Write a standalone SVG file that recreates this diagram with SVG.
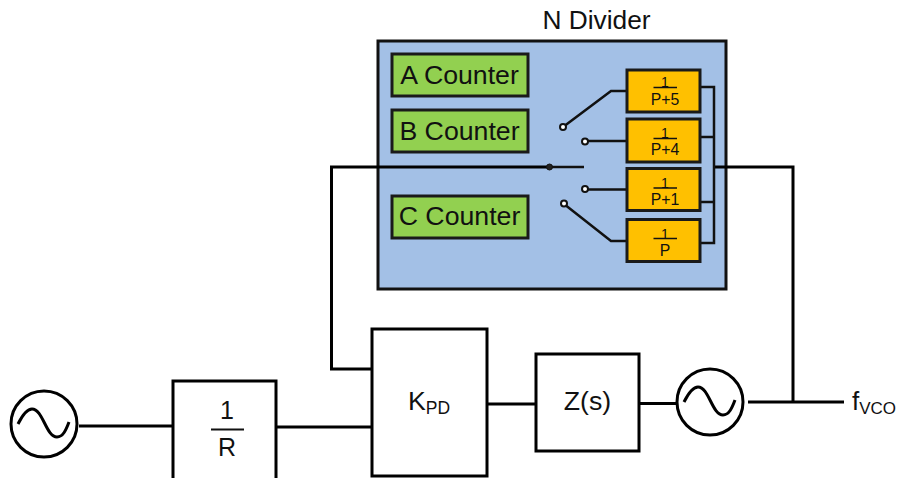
<svg xmlns="http://www.w3.org/2000/svg" width="898" height="478" viewBox="0 0 898 478">
<style>
text{font-family:"Liberation Sans",Arial,sans-serif;fill:#111;text-anchor:middle}
.b{fill:#fff;stroke:#000;stroke-width:3}
.g{fill:#92d050;stroke:#1a1a1a;stroke-width:3}
.o{fill:#ffc000;stroke:#1a1a1a;stroke-width:3}
.w{fill:none;stroke:#000;stroke-width:3}
.t{fill:none;stroke:#111;stroke-width:2.500}
.f{fill:none;stroke:#111;stroke-width:1.500}
.p{fill:#fff;stroke:#111;stroke-width:2}
.gl{font-size:26.700px}
.ps{font-size:15.800px}
.on{font-size:14px}
</style>
<g id="n-divider">
<rect x="378" y="41" width="348" height="248" fill="#a3c0e6" stroke="#111" stroke-width="3"/>
<text x="596.500" y="28.500" font-size="26.300">N Divider</text>
</g>
<g id="a-counter"><rect class="g" x="392" y="54" width="136" height="42"/><text class="gl" x="459.500" y="83.500">A Counter</text></g>
<g id="b-counter"><rect class="g" x="392" y="110" width="136" height="42"/><text class="gl" x="459.500" y="139.500">B Counter</text></g>
<g id="c-counter"><rect class="g" x="392" y="196" width="136" height="42"/><text class="gl" x="459.500" y="224.500">C Counter</text></g>
<g id="connectors">
<path class="w" d="M372 369H331.500V167H549"/>
<path class="t" d="M549 167H584"/>
<path class="w" d="M715 167H793V403"/>
<path class="w" d="M748 402H844"/>
<path class="w" d="M79 426H172"/>
<path class="w" d="M276 427H372"/>
<path class="w" d="M487 404H536"/>
<path class="w" d="M640 403.500H677"/>
<path class="t" d="M565 125.500L611 91H627"/>
<path class="t" d="M585 141H627"/>
<path class="t" d="M585 189.500H627"/>
<path class="t" d="M564 204L611 241H627"/>
<path class="t" d="M700 87H714V243H700M700 137H714M700 202H714"/>
<circle cx="549.500" cy="167" r="3" fill="#222" stroke="#111"/>
<circle class="p" cx="563" cy="127" r="3"/>
<circle class="p" cx="585" cy="141.500" r="3"/>
<circle class="p" cx="585" cy="189" r="3"/>
<circle class="p" cx="564" cy="203.500" r="3"/>
</g>
<g id="p5"><rect class="o" x="627" y="70" width="73" height="42"/><text class="on" x="665" y="87">1</text><path class="f" d="M653.500 87.500H677"/><text class="ps" x="665" y="105">P+5</text></g>
<g id="p4"><rect class="o" x="627" y="119" width="73" height="43"/><text class="on" x="665" y="138">1</text><path class="f" d="M653.500 138.500H677"/><text class="ps" x="665" y="155">P+4</text></g>
<g id="p1"><rect class="o" x="627" y="168.500" width="73" height="42"/><text class="on" x="665" y="188">1</text><path class="f" d="M653.500 188H677"/><text class="ps" x="665" y="205">P+1</text></g>
<g id="p0"><rect class="o" x="627" y="219.500" width="73" height="42"/><text class="on" x="665" y="238.500">1</text><path class="f" d="M653.500 238.500H677"/><text class="ps" x="665" y="256">P</text></g>
<g id="ref-osc"><circle class="b" cx="44" cy="424" r="33"/><path class="w" d="M18 424C23 414 27 409 32 409C43 409 46 437 57 437C63 437 66 430 69 422"/></g>
<g id="r-div"><rect class="b" x="173" y="381" width="103" height="100"/><text x="227" y="419" font-size="25">1</text><path d="M211 429.500H244" stroke="#111" stroke-width="2"/><text x="227" y="456" font-size="25">R</text></g>
<g id="pfd"><rect class="b" x="372" y="329" width="115" height="147"/><text x="429" y="410" font-size="26.700">K<tspan font-size="17.500" dy="4">PD</tspan></text></g>
<g id="filter"><rect class="b" x="536" y="354" width="103" height="97"/><text x="587.500" y="410" font-size="26.700">Z(s)</text></g>
<g id="vco"><circle class="b" cx="710" cy="402" r="33"/><path class="w" d="M684 402C689 392 693 387 698 387C709 387 712 415 723 415C729 415 732 408 735 400"/></g>
<g id="fvco-label"><text x="874" y="410" font-size="26">f<tspan font-size="17" dy="4">VCO</tspan></text></g>
</svg>
